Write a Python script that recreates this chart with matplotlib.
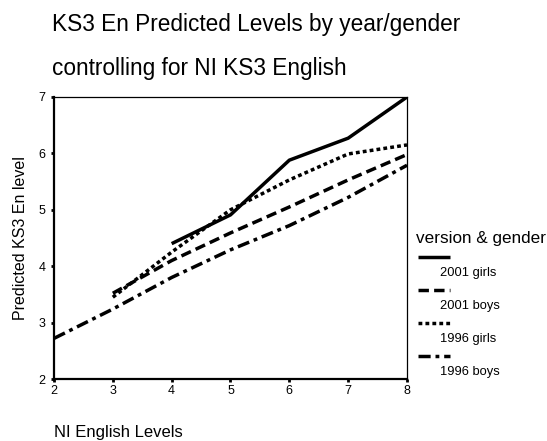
import matplotlib.pyplot as plt
from matplotlib.lines import Line2D

plt.rcParams['font.family'] = ['Liberation Sans', 'DejaVu Sans']

girls_2001_x = [4, 5, 6, 7, 8]
girls_2001 = [4.4, 4.91, 5.88, 6.27, 7.0]
boys_2001_x = [3, 4, 5, 6, 7, 8]
boys_2001 = [3.52, 4.1, 4.59, 5.05, 5.53, 5.98]
girls_1996_x = [3, 4, 5, 6, 7, 8]
girls_1996 = [3.45, 4.25, 5.0, 5.53, 5.99, 6.15]
boys_1996_x = [2, 3, 4, 5, 6, 7, 8]
boys_1996 = [2.72, 3.24, 3.8, 4.29, 4.72, 5.22, 5.79]

labels = ['2001 girls', '2001 boys', '1996 girls', '1996 boys']
styles = ['-', (0, (3.0, 1.5)), (0, (1.1, 0.9)), (0, (3.5, 1.4, 1.1, 1.4))]
LW = 2.5

W, H = 547, 441
fig = plt.figure(figsize=(W / 100, H / 100), dpi=100)
ax = fig.add_axes([54 / W, 1 - 379 / H, 353 / W, 282 / H])

series = [(girls_2001_x, girls_2001), (boys_2001_x, boys_2001),
          (girls_1996_x, girls_1996), (boys_1996_x, boys_1996)]
for (x, y), ls in zip(series, styles):
    ax.plot(x, y, color='black', lw=LW, linestyle=ls, dash_capstyle='butt',
            solid_capstyle='butt')

ax.set_xlim(2, 8)
ax.set_ylim(2, 7)
ax.set_xticks(range(2, 9))
ax.set_yticks(range(2, 8))
ax.tick_params(labelsize=9, length=2, width=2, pad=2, direction='out')
ax.tick_params(axis='y', pad=4)
for s in ['left', 'bottom']:
    ax.spines[s].set_linewidth(1.6)
for s in ['top', 'right']:
    ax.spines[s].set_linewidth(0.9)
ax.set_ylabel('Predicted KS3 En level', fontsize=11.5, labelpad=8)

fig.text(52 / W, 1 - 25 / H, 'KS3 En Predicted Levels by year/gender',
         fontsize=16.3, va='center', ha='left')
fig.text(52 / W, 1 - 68 / H, 'controlling for NI KS3 English',
         fontsize=16.3, va='center', ha='left')
fig.text(54 / W, 1 - 433 / H, 'NI English Levels', fontsize=12,
         va='center', ha='left')

# legend drawn by hand: handle above label
fig.text(416 / W, 1 - 239 / H, 'version & gender', fontsize=12.3,
         va='center', ha='left')
for i, (lab, ls) in enumerate(zip(labels, styles)):
    yl = 257 + i * 33
    fig.add_artist(Line2D([418 / W, 450 / W], [1 - yl / H, 1 - yl / H],
                          color='black', lw=LW, linestyle=ls,
                          dash_capstyle='butt', solid_capstyle='butt'))
    fig.text(440 / W, 1 - (yl + 16) / H, lab, fontsize=9.3,
             va='center', ha='left')

fig.savefig('out.png', dpi=100)
